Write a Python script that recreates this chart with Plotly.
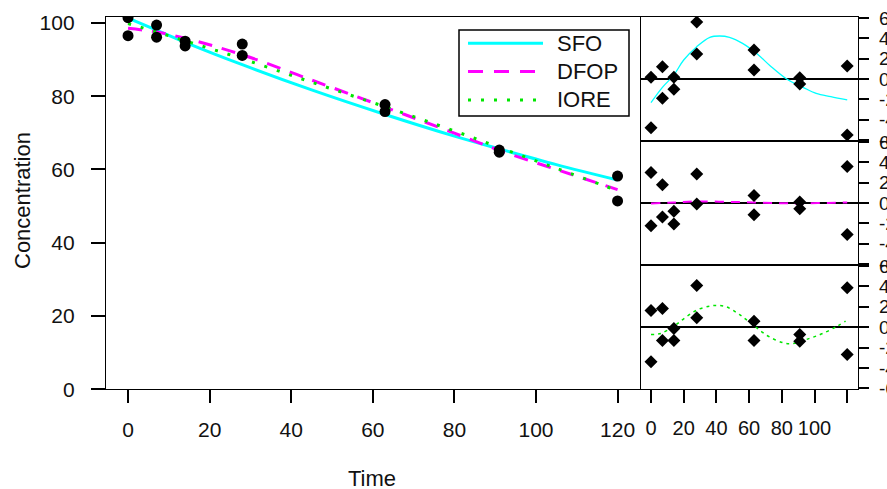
import plotly.graph_objects as go

# ---------------- data ----------------
obs_time = [0, 0, 7, 7, 14, 14, 28, 28, 63, 63, 91, 91, 120, 120]
obs_conc = [101.4, 96.5, 99.4, 96.1, 95.0, 93.7, 94.2, 91.1, 77.7, 75.8, 65.3, 64.7, 58.2, 51.4]

fit_time = [0, 7, 14, 28, 45, 63, 80, 91, 105, 120]
sfo_fit = [101.3, 98.0, 94.7, 88.6, 81.7, 75.0, 69.1, 65.6, 61.3, 57.1]
dfop_fit = [98.5, 97.5, 95.8, 91.3, 84.4, 77.0, 69.9, 65.2, 60.0, 54.5]
iore_fit = [99.8, 97.5, 95.1, 90.2, 83.8, 77.1, 70.5, 66.0, 60.3, 54.2]

res_sfo = [0.17, -4.8, 1.2, -1.9, 0.17, -1.0, 5.6, 2.46, 2.85, 0.88, 0.13, -0.5, 1.28, -5.5]
res_dfop = [3.0, -2.23, 1.8, -1.38, -0.82, -2.07, 2.85, -0.1, 0.75, -1.15, 0.1, -0.56, 3.6, -3.1]
res_iore = [1.64, -3.4, 1.84, -1.31, -0.13, -1.31, 4.1, 0.92, 0.59, -1.31, -0.72, -1.38, 3.87, -2.69]

sm_sfo_t = [0, 7, 14, 20, 28, 36, 42, 48, 56, 65, 73, 83, 93, 101, 110, 120]
sm_sfo = [-2.33, -0.82, 0.39, 1.87, 3.18, 4.1, 4.23, 4.1, 3.5, 2.46, 1.28, 0.0, -0.82, -1.41, -1.74, -2.06]
sm_dfop_t = [0, 14, 28, 45, 63, 80, 91, 105, 120]
sm_dfop = [-0.05, 0.05, 0.15, 0.12, 0.05, -0.02, -0.05, 0.0, 0.05]
sm_iore_t = [0, 6, 14, 20, 28, 36, 40, 46, 54, 62, 71, 81, 87, 97, 105, 114, 119]
sm_iore = [-0.72, -0.62, 0.1, 0.82, 1.67, 2.07, 2.13, 2.0, 1.25, 0.27, -0.82, -1.54, -1.6, -1.1, -0.62, 0.1, 0.59]

main_xticks = [0, 20, 40, 60, 80, 100, 120]
main_yticks = [0, 20, 40, 60, 80, 100]
res_xticks = [0, 20, 40, 60, 80, 100, 120]
res_xlabels = ["0", "20", "40", "60", "80", "100", ""]
res_yticks = [-6, -4, -2, 0, 2, 4, 6]
res_ylabels = ["-6", "-4", "-2", "0", "2", "4", "6"]
legend_names = ["SFO", "DFOP", "IORE"]

# ---------------- styling ----------------
W, H = 887, 489
FONT = "Liberation Sans, Arial, sans-serif"
TXT = "#111111"
CYAN, MAG, GRN = "#00FFFF", "#FF00FF", "#00E600"

def px_x(p):
    return p / W

def px_y(p):
    return 1 - p / H

fig = go.Figure()

# main plot
fig.add_trace(go.Scatter(x=fit_time, y=sfo_fit, mode="lines", line=dict(color=CYAN, width=3, shape="spline"),
                         xaxis="x", yaxis="y", showlegend=False))
fig.add_trace(go.Scatter(x=fit_time, y=dfop_fit, mode="lines",
                         line=dict(color=MAG, width=3, dash="14px,10px", shape="spline"),
                         xaxis="x", yaxis="y", showlegend=False))
fig.add_trace(go.Scatter(x=fit_time, y=iore_fit, mode="lines",
                         line=dict(color=GRN, width=3, dash="3px,10px", shape="spline"),
                         xaxis="x", yaxis="y", showlegend=False))
fig.add_trace(go.Scatter(x=obs_time, y=obs_conc, mode="markers",
                         marker=dict(color="black", size=11, symbol="circle"),
                         xaxis="x", yaxis="y", showlegend=False))

# residual panels
panels = [
    ("x2", "y2", res_sfo, sm_sfo_t, sm_sfo, dict(color=CYAN, width=1.3, shape="spline")),
    ("x3", "y3", res_dfop, sm_dfop_t, sm_dfop, dict(color=MAG, width=2, dash="9px,7px", shape="spline")),
    ("x4", "y4", res_iore, sm_iore_t, sm_iore, dict(color=GRN, width=1.5, dash="3px,4px", shape="spline")),
]
for xa, ya, res, st, sv, ln in panels:
    fig.add_trace(go.Scatter(x=st, y=sv, mode="lines", line=ln, xaxis=xa, yaxis=ya, showlegend=False))
    fig.add_trace(go.Scatter(x=obs_time, y=res, mode="markers",
                             marker=dict(color="black", size=10, symbol="diamond"),
                             xaxis=xa, yaxis=ya, showlegend=False))

axis_common = dict(showline=True, linecolor="black", linewidth=1.3, mirror=True, showgrid=False,
                   ticks="outside", tickcolor="black", tickwidth=1.5, automargin=False)

main_xdom = [px_x(106), px_x(640)]
res_xdom = [px_x(641), px_x(858)]
main_ydom = [px_y(389.3), px_y(17)]
p1 = [px_y(141), px_y(17)]
p2 = [px_y(265), px_y(141)]
p3 = [px_y(389.3), px_y(265)]

layout = dict(
    width=W, height=H, margin=dict(l=0, r=0, t=0, b=0, autoexpand=False),
    paper_bgcolor="white", plot_bgcolor="white",
    font=dict(family=FONT, color=TXT),
    xaxis=dict(axis_common, domain=main_xdom, range=[-5.4, 125.5], tickvals=main_xticks, ticklen=13,
               zeroline=False, anchor="y", tickfont=dict(size=21), ticklabelstandoff=8),
    yaxis=dict(axis_common, domain=main_ydom, range=[0, 101.6], tickvals=main_yticks, ticklen=14,
               zeroline=False, anchor="x", tickfont=dict(size=21), ticklabelstandoff=12),
)
for i, dom in zip([2, 3, 4], [p1, p2, p3]):
    xa = dict(axis_common, domain=res_xdom, range=[-6.1, 126.6], zeroline=False, anchor="y%d" % i)
    if i == 4:
        xa.update(tickvals=res_xticks, ticktext=res_xlabels, ticklen=13, tickfont=dict(size=20),
                  ticklabelstandoff=8)
    else:
        xa.update(ticks="", showticklabels=False)
    ya = dict(axis_common, domain=dom, range=[-6.1, 6.1], side="right", tickvals=res_yticks,
              ticktext=res_ylabels, ticklen=10,
              zeroline=True, zerolinecolor="black", zerolinewidth=1.5, anchor="x%d" % i,
              tickfont=dict(size=19), ticklabelstandoff=6)
    layout["xaxis%d" % i] = xa
    layout["yaxis%d" % i] = ya

fig.update_layout(**layout)

# axis titles
fig.add_annotation(text="Concentration", x=px_x(22), y=px_y(201), xref="paper", yref="paper",
                   textangle=-90, showarrow=False, font=dict(size=22, family=FONT, color=TXT),
                   xanchor="center", yanchor="middle")
fig.add_annotation(text="Time", x=px_x(372), y=px_y(478), xref="paper", yref="paper",
                   showarrow=False, font=dict(size=22, family=FONT, color=TXT),
                   xanchor="center", yanchor="middle")

# legend (drawn manually, R style)
fig.add_shape(type="rect", xref="paper", yref="paper", x0=px_x(459), x1=px_x(629), y0=px_y(116), y1=px_y(30),
              line=dict(color="black", width=1.5), fillcolor="white", layer="above")
leg_styles = [dict(color=CYAN, width=3), dict(color=MAG, width=3, dash="15px,11px"),
              dict(color=GRN, width=3, dash="3px,10px")]
for k, (name, st) in enumerate(zip(legend_names, leg_styles)):
    yy = 43.3 + k * 28.3
    fig.add_shape(type="line", xref="paper", yref="paper", x0=px_x(468), x1=px_x(543), y0=px_y(yy), y1=px_y(yy),
                  line=st, layer="above")
    fig.add_annotation(text=name, x=px_x(555), y=px_y(yy), xref="paper", yref="paper", showarrow=False,
                       xanchor="left", yanchor="middle", font=dict(size=22, family=FONT, color=TXT))

fig.write_html("out.html", config={"displayModeBar": False},
               post_script="document.body.style.margin='0';document.body.style.overflow='hidden';")
